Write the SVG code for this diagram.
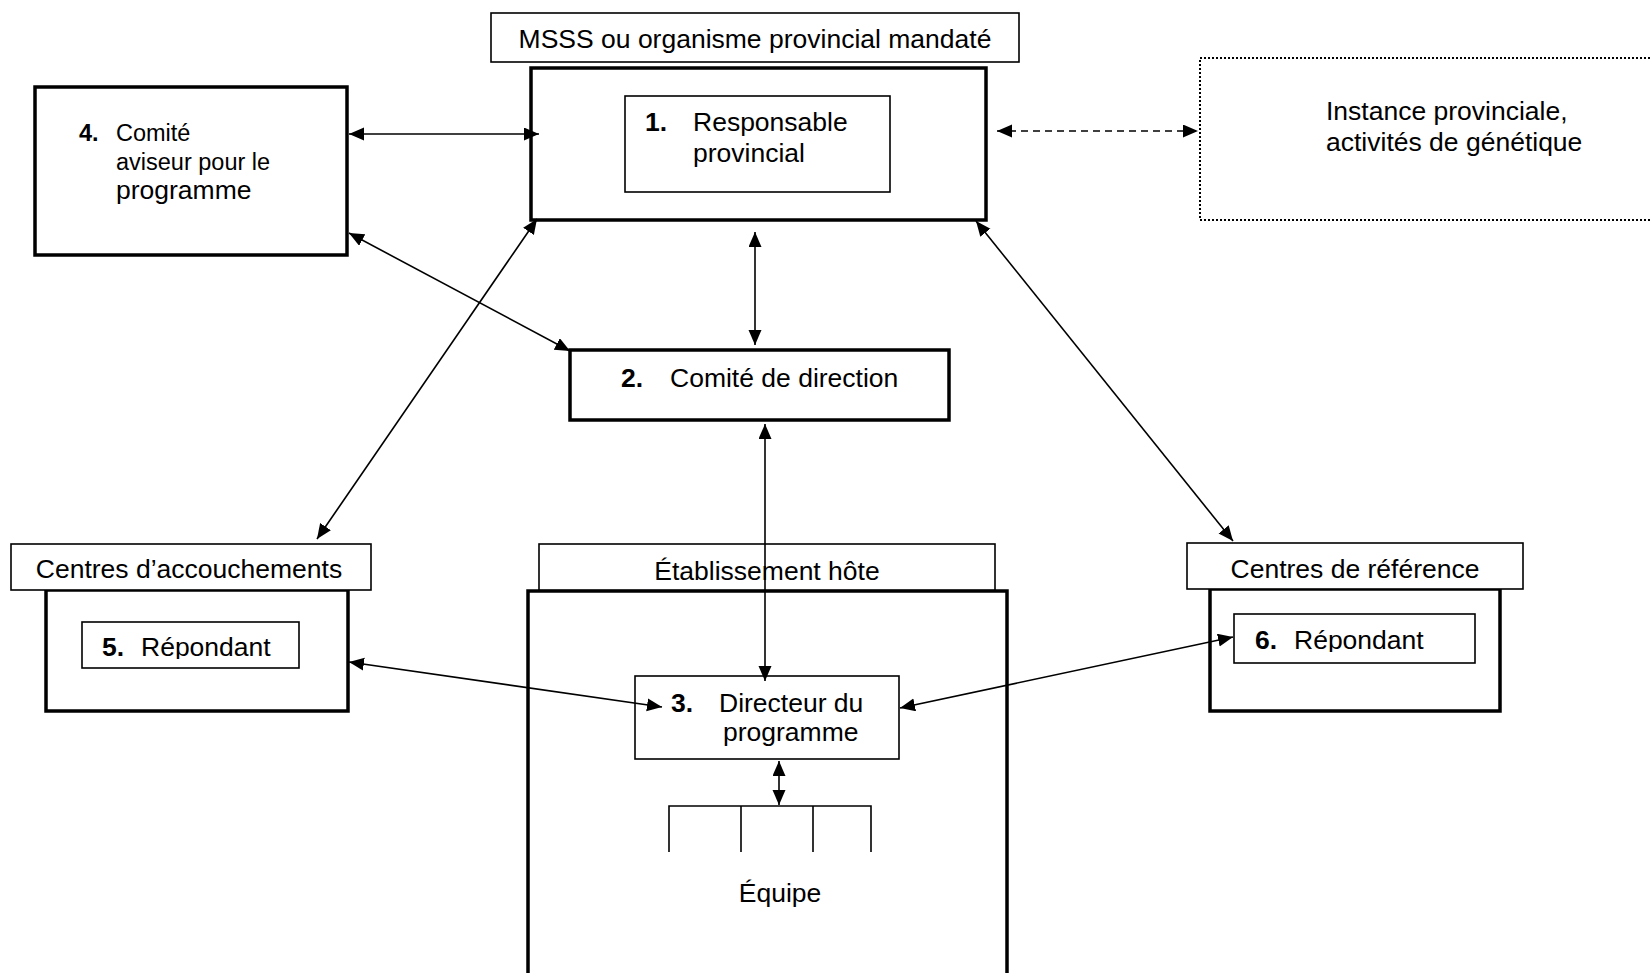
<svg xmlns="http://www.w3.org/2000/svg" width="1651" height="973" viewBox="0 0 1651 973">
<style>
  text { font-family: "Liberation Sans", Arial, sans-serif; font-size: 26.5px; fill: #000; }
  .b { font-weight: bold; }
  .sm { font-size: 23.5px; }
  .thick { fill: #fff; stroke: #000; stroke-width: 3.5; }
  .thin { fill: #fff; stroke: #000; stroke-width: 1.6; }
  .dotted { fill: none; stroke: #000; stroke-width: 2; stroke-dasharray: 2 2; }
  .conn { fill: none; stroke: #000; stroke-width: 1.6; marker-start: url(#ah); marker-end: url(#ah); }
  .dash { stroke-dasharray: 7 5; }
  .line { fill: none; stroke: #000; stroke-width: 1.6; }
</style>
<defs>
  <marker id="ah" markerUnits="userSpaceOnUse" markerWidth="16" markerHeight="14" refX="15" refY="6.5" orient="auto-start-reverse">
    <path d="M0,0 L15,6.5 L0,13 z" fill="#000"/>
  </marker>
  <clipPath id="clip5"><rect x="82" y="622" width="217" height="37"/></clipPath>
  <clipPath id="clip6"><rect x="1234" y="614" width="241" height="38"/></clipPath>
</defs>
<rect width="1651" height="973" fill="#fff"/>

<g id="node-mssss">
  <rect class="thin" x="491" y="13" width="528" height="49"/>
  <text x="755" y="48" text-anchor="middle">MSSS ou organisme provincial mandaté</text>
</g>

<g id="node-1">
  <rect class="thick" x="531" y="68" width="455" height="152"/>
  <rect class="thin" x="625" y="96" width="265" height="96"/>
  <text class="b" x="645" y="131">1.</text>
  <text x="693" y="131">Responsable</text>
  <text x="693" y="162">provincial</text>
</g>

<g id="node-4">
  <rect class="thick" x="35" y="87" width="312" height="168"/>
  <text class="b sm" x="79" y="141">4.</text>
  <text class="sm" x="116" y="141">Comité</text>
  <text class="sm" x="116" y="170">aviseur pour le</text>
  <text x="116" y="199">programme</text>
</g>

<g id="node-instance">
  <rect class="dotted" x="1200" y="58" width="470" height="162"/>
  <text x="1326" y="120">Instance provinciale,</text>
  <text x="1326" y="151">activités de génétique</text>
</g>

<g id="node-2">
  <rect class="thick" x="570" y="350" width="379" height="70"/>
  <text class="b" x="621" y="387">2.</text>
  <text x="670" y="387">Comité de direction</text>
</g>

<g id="node-centres-accouchements">
  <rect class="thick" x="46" y="590" width="302" height="121"/>
  <rect class="thin" x="11" y="544" width="360" height="46"/>
  <text x="189" y="578" text-anchor="middle">Centres d’accouchements</text>
  <rect class="thin" x="82" y="622" width="217" height="46"/>
  <g clip-path="url(#clip5)">
    <text class="b" x="102" y="656">5.</text>
    <text x="141" y="656">Répondant</text>
  </g>
</g>

<g id="node-etablissement">
  <rect class="thick" x="528" y="591" width="479" height="400"/>
  <rect class="thin" x="539" y="544" width="456" height="46"/>
  <text x="767" y="580" text-anchor="middle">Établissement hôte</text>
</g>

<g id="node-3">
  <rect class="thin" x="635" y="676" width="264" height="83"/>
  <text class="b" x="671" y="712">3.</text>
  <text x="719" y="712">Directeur du</text>
  <text x="723" y="741">programme</text>
</g>

<g id="node-equipe">
  <path class="line" d="M669,852 V806 H871 V852 M741,806 V852 M813,806 V852"/>
  <text x="780" y="902" text-anchor="middle">Équipe</text>
</g>

<g id="node-centres-reference">
  <rect class="thick" x="1210" y="589" width="290" height="122"/>
  <rect class="thin" x="1187" y="543" width="336" height="46"/>
  <text x="1355" y="578" text-anchor="middle">Centres de référence</text>
  <rect class="thin" x="1234" y="614" width="241" height="49"/>
  <g clip-path="url(#clip6)">
    <text class="b" x="1255" y="649">6.</text>
    <text x="1294" y="649">Répondant</text>
  </g>
</g>

<g id="connectors">
  <line class="conn" x1="349" y1="134" x2="539" y2="134"/>
  <line class="conn dash" x1="997" y1="131" x2="1198" y2="131"/>
  <line class="conn" x1="755" y1="232" x2="755" y2="345"/>
  <line class="conn" x1="349" y1="233" x2="570" y2="351"/>
  <line class="conn" x1="537" y1="219" x2="317" y2="539"/>
  <line class="conn" x1="976" y1="221" x2="1233" y2="541"/>
  <line class="conn" x1="765" y1="424" x2="765" y2="681"/>
  <line class="conn" x1="349" y1="662" x2="662" y2="707"/>
  <line class="conn" x1="900" y1="708" x2="1233" y2="637"/>
  <line class="conn" x1="779" y1="761" x2="779" y2="805"/>
</g>
</svg>
